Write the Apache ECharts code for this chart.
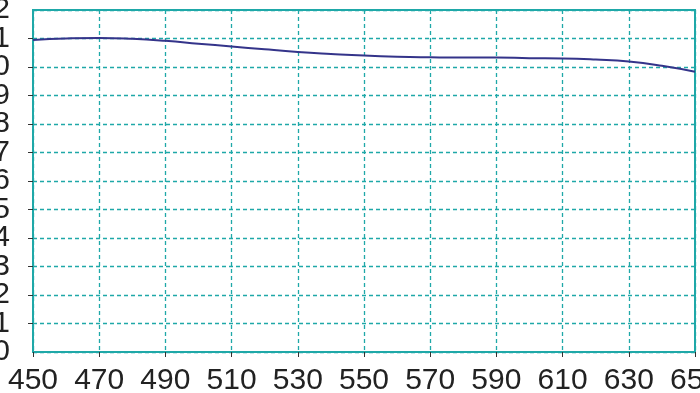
<!DOCTYPE html>
<html>
<head>
<meta charset="utf-8">
<script src="https://cdn.jsdelivr.net/npm/echarts@6/dist/echarts.min.js"></script>
<style>html,body{margin:0;padding:0;background:#fff;}#c{width:700px;height:393px;}</style>
</head>
<body>
<div id="c"></div>
<script>
var wavelengths = [450,460,470,480,490,500,510,520,530,540,550,560,570,580,590,600,610,620,630,640,650];
var values = [10.95,11.0,11.02,10.99,10.92,10.82,10.72,10.62,10.53,10.46,10.40,10.36,10.34,10.33,10.33,10.31,10.30,10.26,10.19,10.04,9.83];
var xMin = 450, xMax = 650, xStep = 20;
var yMin = 0, yMax = 12, yStep = 1;

var teal = '#1fa8a8';
var labelStyle = {fontFamily:'Liberation Sans', fontSize:30, color:'#222'};
var chart = echarts.init(document.getElementById('c'), null, {renderer:'canvas'});
var pts = wavelengths.map(function(w,i){return [w, values[i]];});
chart.setOption({
  animation:false,
  grid:{left:33, right:5, top:10, bottom:41, containLabel:false, outerBoundsMode:'none',
        show:true, borderColor:teal, borderWidth:2, backgroundColor:'transparent'},
  xAxis:[{
    type:'value', min:xMin, max:xMax, interval:xStep, position:'bottom',
    axisLine:{lineStyle:{color:teal, width:2}},
    axisTick:{show:true, length:5, lineStyle:{color:'#333'}},
    axisLabel:Object.assign({margin:14, showMinLabel:true, showMaxLabel:true, hideOverlap:false}, labelStyle),
    splitLine:{show:true, lineStyle:{color:teal, type:[4,3], width:1.3}}
  }],
  yAxis:[{
    type:'value', min:yMin, max:yMax, interval:yStep, position:'left',
    axisLine:{show:true, lineStyle:{color:teal, width:2}},
    axisTick:{show:true, length:5, lineStyle:{color:'#333'}},
    axisLabel:Object.assign({margin:23, showMinLabel:false, showMaxLabel:false, hideOverlap:false}, labelStyle),
    splitLine:{show:true, lineStyle:{color:teal, type:[4,3], width:1.3}}
  },{
    type:'value', min:yMin, max:yMax, interval:yMax - yMin, position:'left', offset:0,
    axisLine:{show:false}, axisTick:{show:false}, splitLine:{show:false},
    axisLabel:Object.assign({margin:23, showMinLabel:true, showMaxLabel:true, hideOverlap:false}, labelStyle)
  }],
  series:[{
    type:'line', data:pts, smooth:true, showSymbol:false,
    lineStyle:{color:'#34348a', width:2}
  }]
});
</script>
</body>
</html>
